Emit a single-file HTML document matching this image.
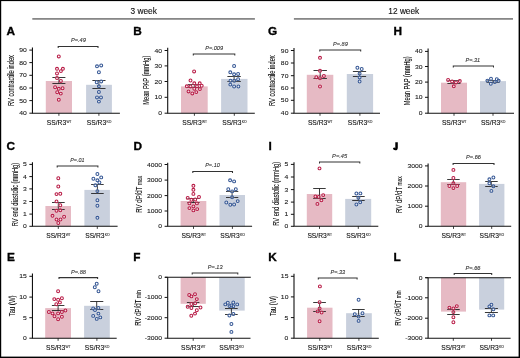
<!DOCTYPE html>
<html><head><meta charset="utf-8"><title>Figure</title>
<style>
html,body{margin:0;padding:0;background:#fff;}
body{width:520px;height:358px;overflow:hidden;}
svg{display:block;font-family:"Liberation Sans", sans-serif;will-change:transform;}
</style></head><body>
<svg xmlns="http://www.w3.org/2000/svg" width="520" height="358" viewBox="0 0 520 358">
<rect x="0" y="0" width="520" height="358" fill="#fff"/>
<rect x="32.3" y="18.1" width="222.6" height="1.6" fill="#7a7a7a"/>
<rect x="293.9" y="18.1" width="219.1" height="1.6" fill="#7a7a7a"/>
<text x="143.7" y="14.1" font-size="8.3" text-anchor="middle" fill="#111" stroke="#111" stroke-width="0.12">3 week</text>
<text x="403.8" y="14.1" font-size="8.3" text-anchor="middle" fill="#111" stroke="#111" stroke-width="0.12">12 week</text>
<g><text x="6.4" y="34.8" font-size="11.8" font-weight="bold" fill="#000" stroke="#000" stroke-width="0.35">A</text><rect x="45.8" y="81" width="26.2" height="32.2" fill="#e6bac4"/><rect x="86.1" y="84.8" width="25.8" height="28.4" fill="#c9d0dd"/><path d="M52.4 77.5H65.4M52.4 83.5H65.4M58.9 77.5V83.5" stroke="#222" stroke-width="0.9" fill="none"/><path d="M92.4 80.5H105.5M92.4 88.5H105.5M98.9 80.5V88.5" stroke="#222" stroke-width="0.9" fill="none"/><circle cx="58.8" cy="56.4" r="2.5" fill="#fff" fill-opacity="0.18"/><circle cx="57" cy="68.8" r="2.5" fill="#fff" fill-opacity="0.18"/><circle cx="62.9" cy="68.8" r="2.5" fill="#fff" fill-opacity="0.18"/><circle cx="60.9" cy="71.1" r="2.5" fill="#fff" fill-opacity="0.18"/><circle cx="57" cy="73.4" r="2.5" fill="#fff" fill-opacity="0.18"/><circle cx="57" cy="78" r="2.5" fill="#fff" fill-opacity="0.18"/><circle cx="60.9" cy="80.9" r="2.5" fill="#fff" fill-opacity="0.18"/><circle cx="55.1" cy="87.2" r="2.5" fill="#fff" fill-opacity="0.18"/><circle cx="58.8" cy="88.8" r="2.5" fill="#fff" fill-opacity="0.18"/><circle cx="62.6" cy="88.2" r="2.5" fill="#fff" fill-opacity="0.18"/><circle cx="57.2" cy="92.2" r="2.5" fill="#fff" fill-opacity="0.18"/><circle cx="60.8" cy="93.6" r="2.5" fill="#fff" fill-opacity="0.18"/><circle cx="58.8" cy="99.7" r="2.5" fill="#fff" fill-opacity="0.18"/><circle cx="58.8" cy="56.4" r="1.45" fill="#fff" fill-opacity="0.35" stroke="#b81a45" stroke-width="1.05"/><circle cx="57" cy="68.8" r="1.45" fill="#fff" fill-opacity="0.35" stroke="#b81a45" stroke-width="1.05"/><circle cx="62.9" cy="68.8" r="1.45" fill="#fff" fill-opacity="0.35" stroke="#b81a45" stroke-width="1.05"/><circle cx="60.9" cy="71.1" r="1.45" fill="#fff" fill-opacity="0.35" stroke="#b81a45" stroke-width="1.05"/><circle cx="57" cy="73.4" r="1.45" fill="#fff" fill-opacity="0.35" stroke="#b81a45" stroke-width="1.05"/><circle cx="57" cy="78" r="1.45" fill="#fff" fill-opacity="0.35" stroke="#b81a45" stroke-width="1.05"/><circle cx="60.9" cy="80.9" r="1.45" fill="#fff" fill-opacity="0.35" stroke="#b81a45" stroke-width="1.05"/><circle cx="55.1" cy="87.2" r="1.45" fill="#fff" fill-opacity="0.35" stroke="#b81a45" stroke-width="1.05"/><circle cx="58.8" cy="88.8" r="1.45" fill="#fff" fill-opacity="0.35" stroke="#b81a45" stroke-width="1.05"/><circle cx="62.6" cy="88.2" r="1.45" fill="#fff" fill-opacity="0.35" stroke="#b81a45" stroke-width="1.05"/><circle cx="57.2" cy="92.2" r="1.45" fill="#fff" fill-opacity="0.35" stroke="#b81a45" stroke-width="1.05"/><circle cx="60.8" cy="93.6" r="1.45" fill="#fff" fill-opacity="0.35" stroke="#b81a45" stroke-width="1.05"/><circle cx="58.8" cy="99.7" r="1.45" fill="#fff" fill-opacity="0.35" stroke="#b81a45" stroke-width="1.05"/><circle cx="97" cy="66.3" r="2.5" fill="#fff" fill-opacity="0.18"/><circle cx="101.2" cy="65.4" r="2.5" fill="#fff" fill-opacity="0.18"/><circle cx="98.9" cy="72.2" r="2.5" fill="#fff" fill-opacity="0.18"/><circle cx="96.7" cy="82.2" r="2.5" fill="#fff" fill-opacity="0.18"/><circle cx="101.2" cy="81.4" r="2.5" fill="#fff" fill-opacity="0.18"/><circle cx="98.9" cy="86.3" r="2.5" fill="#fff" fill-opacity="0.18"/><circle cx="98.9" cy="91.9" r="2.5" fill="#fff" fill-opacity="0.18"/><circle cx="97" cy="97.4" r="2.5" fill="#fff" fill-opacity="0.18"/><circle cx="101" cy="97.4" r="2.5" fill="#fff" fill-opacity="0.18"/><circle cx="98.9" cy="101.6" r="2.5" fill="#fff" fill-opacity="0.18"/><circle cx="97" cy="66.3" r="1.45" fill="#fff" fill-opacity="0.35" stroke="#345694" stroke-width="1.05"/><circle cx="101.2" cy="65.4" r="1.45" fill="#fff" fill-opacity="0.35" stroke="#345694" stroke-width="1.05"/><circle cx="98.9" cy="72.2" r="1.45" fill="#fff" fill-opacity="0.35" stroke="#345694" stroke-width="1.05"/><circle cx="96.7" cy="82.2" r="1.45" fill="#fff" fill-opacity="0.35" stroke="#345694" stroke-width="1.05"/><circle cx="101.2" cy="81.4" r="1.45" fill="#fff" fill-opacity="0.35" stroke="#345694" stroke-width="1.05"/><circle cx="98.9" cy="86.3" r="1.45" fill="#fff" fill-opacity="0.35" stroke="#345694" stroke-width="1.05"/><circle cx="98.9" cy="91.9" r="1.45" fill="#fff" fill-opacity="0.35" stroke="#345694" stroke-width="1.05"/><circle cx="97" cy="97.4" r="1.45" fill="#fff" fill-opacity="0.35" stroke="#345694" stroke-width="1.05"/><circle cx="101" cy="97.4" r="1.45" fill="#fff" fill-opacity="0.35" stroke="#345694" stroke-width="1.05"/><circle cx="98.9" cy="101.6" r="1.45" fill="#fff" fill-opacity="0.35" stroke="#345694" stroke-width="1.05"/><path d="M32.45 47.5V113.2H119.9" stroke="#111" stroke-width="1.1" fill="none"/><path d="M29.35 50.1H32.45" stroke="#111" stroke-width="1.0"/><text x="26.85" y="52.15" font-size="5.7" text-anchor="end" fill="#222" stroke="#222" stroke-width="0.1" textLength="7.54" lengthAdjust="spacingAndGlyphs">90</text><path d="M29.35 62.6H32.45" stroke="#111" stroke-width="1.0"/><text x="26.85" y="64.65" font-size="5.7" text-anchor="end" fill="#222" stroke="#222" stroke-width="0.1" textLength="7.54" lengthAdjust="spacingAndGlyphs">80</text><path d="M29.35 75.3H32.45" stroke="#111" stroke-width="1.0"/><text x="26.85" y="77.35" font-size="5.7" text-anchor="end" fill="#222" stroke="#222" stroke-width="0.1" textLength="7.54" lengthAdjust="spacingAndGlyphs">70</text><path d="M29.35 88H32.45" stroke="#111" stroke-width="1.0"/><text x="26.85" y="90.05" font-size="5.7" text-anchor="end" fill="#222" stroke="#222" stroke-width="0.1" textLength="7.54" lengthAdjust="spacingAndGlyphs">60</text><path d="M29.35 100.6H32.45" stroke="#111" stroke-width="1.0"/><text x="26.85" y="102.65" font-size="5.7" text-anchor="end" fill="#222" stroke="#222" stroke-width="0.1" textLength="7.54" lengthAdjust="spacingAndGlyphs">50</text><path d="M29.35 113.2H32.45" stroke="#111" stroke-width="1.0"/><text x="26.85" y="115.25" font-size="5.7" text-anchor="end" fill="#222" stroke="#222" stroke-width="0.1" textLength="7.54" lengthAdjust="spacingAndGlyphs">40</text><path d="M58.9 113.2V115.8" stroke="#111" stroke-width="0.8"/><text x="46.8" y="124.6" font-size="6.7" fill="#111" stroke="#111" stroke-width="0.1">SS/R3</text><text x="66.4" y="123.3" font-size="4.4" fill="#222" stroke="#222" stroke-width="0.1" textLength="5.0" lengthAdjust="spacingAndGlyphs">WT</text><path d="M98.9 113.2V115.8" stroke="#111" stroke-width="0.8"/><text x="86.8" y="124.6" font-size="6.7" fill="#111" stroke="#111" stroke-width="0.1">SS/R3</text><text x="106.4" y="123.3" font-size="4.4" fill="#222" stroke="#222" stroke-width="0.1" textLength="5.0" lengthAdjust="spacingAndGlyphs">KO</text><text transform="translate(13.8 80.5) rotate(-90)" x="0" y="0" font-size="8.2" text-anchor="middle" fill="#000" stroke="#000" stroke-width="0.06" textLength="51" lengthAdjust="spacingAndGlyphs">RV contractile index</text><path d="M58.2 47.9V46.4H98V47.9" stroke="#333" stroke-width="1.05" fill="none"/><text x="70.9" y="42.2" font-size="5.4" font-style="italic" fill="#333" stroke="#333" stroke-width="0.1" textLength="14.9" lengthAdjust="spacingAndGlyphs">P=.49</text></g>
<g><text x="133.2" y="34.8" font-size="11.8" font-weight="bold" fill="#000" stroke="#000" stroke-width="0.35">B</text><rect x="181" y="86.4" width="26.7" height="26.8" fill="#e6bac4"/><rect x="221.1" y="78.9" width="26.4" height="34.3" fill="#c9d0dd"/><path d="M187.8 84.5H200.8M187.8 87.5H200.8M194.3 84.5V87.5" stroke="#222" stroke-width="0.9" fill="none"/><path d="M227.4 76.5H240.8M227.4 81.5H240.8M234.1 76.5V81.5" stroke="#222" stroke-width="0.9" fill="none"/><circle cx="194.1" cy="71.4" r="2.5" fill="#fff" fill-opacity="0.18"/><circle cx="190.5" cy="80.5" r="2.5" fill="#fff" fill-opacity="0.18"/><circle cx="194.3" cy="83.3" r="2.5" fill="#fff" fill-opacity="0.18"/><circle cx="199.7" cy="83.3" r="2.5" fill="#fff" fill-opacity="0.18"/><circle cx="186.8" cy="86.3" r="2.5" fill="#fff" fill-opacity="0.18"/><circle cx="190.5" cy="86.4" r="2.5" fill="#fff" fill-opacity="0.18"/><circle cx="197" cy="86.3" r="2.5" fill="#fff" fill-opacity="0.18"/><circle cx="201.7" cy="85.7" r="2.5" fill="#fff" fill-opacity="0.18"/><circle cx="194.3" cy="88.7" r="2.5" fill="#fff" fill-opacity="0.18"/><circle cx="199.9" cy="89.1" r="2.5" fill="#fff" fill-opacity="0.18"/><circle cx="188.5" cy="91.4" r="2.5" fill="#fff" fill-opacity="0.18"/><circle cx="192.3" cy="93.4" r="2.5" fill="#fff" fill-opacity="0.18"/><circle cx="196.3" cy="92.1" r="2.5" fill="#fff" fill-opacity="0.18"/><circle cx="194.1" cy="71.4" r="1.45" fill="#fff" fill-opacity="0.35" stroke="#b81a45" stroke-width="1.05"/><circle cx="190.5" cy="80.5" r="1.45" fill="#fff" fill-opacity="0.35" stroke="#b81a45" stroke-width="1.05"/><circle cx="194.3" cy="83.3" r="1.45" fill="#fff" fill-opacity="0.35" stroke="#b81a45" stroke-width="1.05"/><circle cx="199.7" cy="83.3" r="1.45" fill="#fff" fill-opacity="0.35" stroke="#b81a45" stroke-width="1.05"/><circle cx="186.8" cy="86.3" r="1.45" fill="#fff" fill-opacity="0.35" stroke="#b81a45" stroke-width="1.05"/><circle cx="190.5" cy="86.4" r="1.45" fill="#fff" fill-opacity="0.35" stroke="#b81a45" stroke-width="1.05"/><circle cx="197" cy="86.3" r="1.45" fill="#fff" fill-opacity="0.35" stroke="#b81a45" stroke-width="1.05"/><circle cx="201.7" cy="85.7" r="1.45" fill="#fff" fill-opacity="0.35" stroke="#b81a45" stroke-width="1.05"/><circle cx="194.3" cy="88.7" r="1.45" fill="#fff" fill-opacity="0.35" stroke="#b81a45" stroke-width="1.05"/><circle cx="199.9" cy="89.1" r="1.45" fill="#fff" fill-opacity="0.35" stroke="#b81a45" stroke-width="1.05"/><circle cx="188.5" cy="91.4" r="1.45" fill="#fff" fill-opacity="0.35" stroke="#b81a45" stroke-width="1.05"/><circle cx="192.3" cy="93.4" r="1.45" fill="#fff" fill-opacity="0.35" stroke="#b81a45" stroke-width="1.05"/><circle cx="196.3" cy="92.1" r="1.45" fill="#fff" fill-opacity="0.35" stroke="#b81a45" stroke-width="1.05"/><circle cx="234.1" cy="66" r="2.5" fill="#fff" fill-opacity="0.18"/><circle cx="230.3" cy="72.3" r="2.5" fill="#fff" fill-opacity="0.18"/><circle cx="234.1" cy="74.3" r="2.5" fill="#fff" fill-opacity="0.18"/><circle cx="238.1" cy="73.9" r="2.5" fill="#fff" fill-opacity="0.18"/><circle cx="230.5" cy="80.7" r="2.5" fill="#fff" fill-opacity="0.18"/><circle cx="234.3" cy="80.7" r="2.5" fill="#fff" fill-opacity="0.18"/><circle cx="238.1" cy="79.2" r="2.5" fill="#fff" fill-opacity="0.18"/><circle cx="230.3" cy="84.6" r="2.5" fill="#fff" fill-opacity="0.18"/><circle cx="234.1" cy="86.5" r="2.5" fill="#fff" fill-opacity="0.18"/><circle cx="238.4" cy="86.5" r="2.5" fill="#fff" fill-opacity="0.18"/><circle cx="234.1" cy="66" r="1.45" fill="#fff" fill-opacity="0.35" stroke="#345694" stroke-width="1.05"/><circle cx="230.3" cy="72.3" r="1.45" fill="#fff" fill-opacity="0.35" stroke="#345694" stroke-width="1.05"/><circle cx="234.1" cy="74.3" r="1.45" fill="#fff" fill-opacity="0.35" stroke="#345694" stroke-width="1.05"/><circle cx="238.1" cy="73.9" r="1.45" fill="#fff" fill-opacity="0.35" stroke="#345694" stroke-width="1.05"/><circle cx="230.5" cy="80.7" r="1.45" fill="#fff" fill-opacity="0.35" stroke="#345694" stroke-width="1.05"/><circle cx="234.3" cy="80.7" r="1.45" fill="#fff" fill-opacity="0.35" stroke="#345694" stroke-width="1.05"/><circle cx="238.1" cy="79.2" r="1.45" fill="#fff" fill-opacity="0.35" stroke="#345694" stroke-width="1.05"/><circle cx="230.3" cy="84.6" r="1.45" fill="#fff" fill-opacity="0.35" stroke="#345694" stroke-width="1.05"/><circle cx="234.1" cy="86.5" r="1.45" fill="#fff" fill-opacity="0.35" stroke="#345694" stroke-width="1.05"/><circle cx="238.4" cy="86.5" r="1.45" fill="#fff" fill-opacity="0.35" stroke="#345694" stroke-width="1.05"/><path d="M167.7 47.7V113.2H254.8" stroke="#111" stroke-width="1.1" fill="none"/><path d="M164.6 50.5H167.7" stroke="#111" stroke-width="1.0"/><text x="162.1" y="52.55" font-size="5.7" text-anchor="end" fill="#222" stroke="#222" stroke-width="0.1" textLength="7.54" lengthAdjust="spacingAndGlyphs">40</text><path d="M164.6 65.9H167.7" stroke="#111" stroke-width="1.0"/><text x="162.1" y="67.95" font-size="5.7" text-anchor="end" fill="#222" stroke="#222" stroke-width="0.1" textLength="7.54" lengthAdjust="spacingAndGlyphs">30</text><path d="M164.6 81.5H167.7" stroke="#111" stroke-width="1.0"/><text x="162.1" y="83.55" font-size="5.7" text-anchor="end" fill="#222" stroke="#222" stroke-width="0.1" textLength="7.54" lengthAdjust="spacingAndGlyphs">20</text><path d="M164.6 97.3H167.7" stroke="#111" stroke-width="1.0"/><text x="162.1" y="99.35" font-size="5.7" text-anchor="end" fill="#222" stroke="#222" stroke-width="0.1" textLength="7.54" lengthAdjust="spacingAndGlyphs">10</text><path d="M164.6 113.2H167.7" stroke="#111" stroke-width="1.0"/><text x="162.1" y="115.25" font-size="5.7" text-anchor="end" fill="#222" stroke="#222" stroke-width="0.1" textLength="3.77" lengthAdjust="spacingAndGlyphs">0</text><path d="M194.4 113.2V115.8" stroke="#111" stroke-width="0.8"/><text x="182.3" y="124.6" font-size="6.7" fill="#111" stroke="#111" stroke-width="0.1">SS/R3</text><text x="201.9" y="123.3" font-size="4.4" fill="#222" stroke="#222" stroke-width="0.1" textLength="5.0" lengthAdjust="spacingAndGlyphs">WT</text><path d="M234.3 113.2V115.8" stroke="#111" stroke-width="0.8"/><text x="222.2" y="124.6" font-size="6.7" fill="#111" stroke="#111" stroke-width="0.1">SS/R3</text><text x="241.8" y="123.3" font-size="4.4" fill="#222" stroke="#222" stroke-width="0.1" textLength="5.0" lengthAdjust="spacingAndGlyphs">KO</text><text transform="translate(149.2 80.25) rotate(-90)" x="0" y="0" font-size="8.2" text-anchor="middle" fill="#000" stroke="#000" stroke-width="0.06" textLength="49.1" lengthAdjust="spacingAndGlyphs">Mean PAP (mmHg)</text><path d="M193.3 55.5V54H234.8V55.5" stroke="#333" stroke-width="1.05" fill="none"/><text x="205.2" y="49.8" font-size="5.4" font-style="italic" fill="#333" stroke="#333" stroke-width="0.1" textLength="17.9" lengthAdjust="spacingAndGlyphs">P=.009</text></g>
<g><text x="268.1" y="35" font-size="11.8" font-weight="bold" fill="#000" stroke="#000" stroke-width="0.35">G</text><rect x="306.8" y="74.8" width="26.5" height="38.4" fill="#e6bac4"/><rect x="346.8" y="74" width="26.3" height="39.2" fill="#c9d0dd"/><path d="M313.5 70.5H326.9M313.5 78.5H326.9M320.2 70.5V78.5" stroke="#222" stroke-width="0.9" fill="none"/><path d="M352.9 71.5H366.1M352.9 76.5H366.1M359.6 71.5V76.5" stroke="#222" stroke-width="0.9" fill="none"/><circle cx="320" cy="57.8" r="2.5" fill="#fff" fill-opacity="0.18"/><circle cx="320" cy="70.7" r="2.5" fill="#fff" fill-opacity="0.18"/><circle cx="323.9" cy="75.9" r="2.5" fill="#fff" fill-opacity="0.18"/><circle cx="316.3" cy="77.2" r="2.5" fill="#fff" fill-opacity="0.18"/><circle cx="320" cy="78.2" r="2.5" fill="#fff" fill-opacity="0.18"/><circle cx="320" cy="86.5" r="2.5" fill="#fff" fill-opacity="0.18"/><circle cx="320" cy="57.8" r="1.45" fill="#fff" fill-opacity="0.35" stroke="#b81a45" stroke-width="1.05"/><circle cx="320" cy="70.7" r="1.45" fill="#fff" fill-opacity="0.35" stroke="#b81a45" stroke-width="1.05"/><circle cx="323.9" cy="75.9" r="1.45" fill="#fff" fill-opacity="0.35" stroke="#b81a45" stroke-width="1.05"/><circle cx="316.3" cy="77.2" r="1.45" fill="#fff" fill-opacity="0.35" stroke="#b81a45" stroke-width="1.05"/><circle cx="320" cy="78.2" r="1.45" fill="#fff" fill-opacity="0.35" stroke="#b81a45" stroke-width="1.05"/><circle cx="320" cy="86.5" r="1.45" fill="#fff" fill-opacity="0.35" stroke="#b81a45" stroke-width="1.05"/><circle cx="357.4" cy="67.7" r="2.5" fill="#fff" fill-opacity="0.18"/><circle cx="361.7" cy="69" r="2.5" fill="#fff" fill-opacity="0.18"/><circle cx="359.6" cy="73.5" r="2.5" fill="#fff" fill-opacity="0.18"/><circle cx="359.6" cy="77.4" r="2.5" fill="#fff" fill-opacity="0.18"/><circle cx="359.6" cy="81.5" r="2.5" fill="#fff" fill-opacity="0.18"/><circle cx="357.4" cy="67.7" r="1.45" fill="#fff" fill-opacity="0.35" stroke="#345694" stroke-width="1.05"/><circle cx="361.7" cy="69" r="1.45" fill="#fff" fill-opacity="0.35" stroke="#345694" stroke-width="1.05"/><circle cx="359.6" cy="73.5" r="1.45" fill="#fff" fill-opacity="0.35" stroke="#345694" stroke-width="1.05"/><circle cx="359.6" cy="77.4" r="1.45" fill="#fff" fill-opacity="0.35" stroke="#345694" stroke-width="1.05"/><circle cx="359.6" cy="81.5" r="1.45" fill="#fff" fill-opacity="0.35" stroke="#345694" stroke-width="1.05"/><path d="M294 48V113.2H380" stroke="#111" stroke-width="1.1" fill="none"/><path d="M290.9 50.5H294" stroke="#111" stroke-width="1.0"/><text x="288.4" y="52.55" font-size="5.7" text-anchor="end" fill="#222" stroke="#222" stroke-width="0.1" textLength="7.54" lengthAdjust="spacingAndGlyphs">90</text><path d="M290.9 63H294" stroke="#111" stroke-width="1.0"/><text x="288.4" y="65.05" font-size="5.7" text-anchor="end" fill="#222" stroke="#222" stroke-width="0.1" textLength="7.54" lengthAdjust="spacingAndGlyphs">80</text><path d="M290.9 75.7H294" stroke="#111" stroke-width="1.0"/><text x="288.4" y="77.75" font-size="5.7" text-anchor="end" fill="#222" stroke="#222" stroke-width="0.1" textLength="7.54" lengthAdjust="spacingAndGlyphs">70</text><path d="M290.9 88H294" stroke="#111" stroke-width="1.0"/><text x="288.4" y="90.05" font-size="5.7" text-anchor="end" fill="#222" stroke="#222" stroke-width="0.1" textLength="7.54" lengthAdjust="spacingAndGlyphs">60</text><path d="M290.9 100.3H294" stroke="#111" stroke-width="1.0"/><text x="288.4" y="102.35" font-size="5.7" text-anchor="end" fill="#222" stroke="#222" stroke-width="0.1" textLength="7.54" lengthAdjust="spacingAndGlyphs">50</text><path d="M290.9 113.2H294" stroke="#111" stroke-width="1.0"/><text x="288.4" y="115.25" font-size="5.7" text-anchor="end" fill="#222" stroke="#222" stroke-width="0.1" textLength="7.54" lengthAdjust="spacingAndGlyphs">40</text><path d="M320 113.2V115.8" stroke="#111" stroke-width="0.8"/><text x="307.9" y="124.6" font-size="6.7" fill="#111" stroke="#111" stroke-width="0.1">SS/R3</text><text x="327.5" y="123.3" font-size="4.4" fill="#222" stroke="#222" stroke-width="0.1" textLength="5.0" lengthAdjust="spacingAndGlyphs">WT</text><path d="M359.9 113.2V115.8" stroke="#111" stroke-width="0.8"/><text x="347.8" y="124.6" font-size="6.7" fill="#111" stroke="#111" stroke-width="0.1">SS/R3</text><text x="367.4" y="123.3" font-size="4.4" fill="#222" stroke="#222" stroke-width="0.1" textLength="5.0" lengthAdjust="spacingAndGlyphs">KO</text><text transform="translate(275.2 80.65) rotate(-90)" x="0" y="0" font-size="8.2" text-anchor="middle" fill="#000" stroke="#000" stroke-width="0.06" textLength="50.7" lengthAdjust="spacingAndGlyphs">RV contractile index</text><path d="M319.8 51.5V50H360.7V51.5" stroke="#333" stroke-width="1.05" fill="none"/><text x="333.1" y="46" font-size="5.4" font-style="italic" fill="#333" stroke="#333" stroke-width="0.1" textLength="14.7" lengthAdjust="spacingAndGlyphs">P=.89</text></g>
<g><text x="393.6" y="35" font-size="11.8" font-weight="bold" fill="#000" stroke="#000" stroke-width="0.35">H</text><rect x="441" y="82.7" width="26" height="30.5" fill="#e6bac4"/><rect x="480" y="81.1" width="26" height="32.1" fill="#c9d0dd"/><path d="M447.4 80.5H460.5M447.4 83.5H460.5M454 80.5V83.5" stroke="#222" stroke-width="0.9" fill="none"/><path d="M486.5 80.5H499.5M486.5 82.5H499.5M493 80.5V82.5" stroke="#222" stroke-width="0.9" fill="none"/><circle cx="448.1" cy="79.9" r="2.5" fill="#fff" fill-opacity="0.18"/><circle cx="452.1" cy="81.4" r="2.5" fill="#fff" fill-opacity="0.18"/><circle cx="456" cy="82.4" r="2.5" fill="#fff" fill-opacity="0.18"/><circle cx="459.8" cy="80.9" r="2.5" fill="#fff" fill-opacity="0.18"/><circle cx="453.8" cy="86.3" r="2.5" fill="#fff" fill-opacity="0.18"/><circle cx="448.1" cy="79.9" r="1.45" fill="#fff" fill-opacity="0.35" stroke="#b81a45" stroke-width="1.05"/><circle cx="452.1" cy="81.4" r="1.45" fill="#fff" fill-opacity="0.35" stroke="#b81a45" stroke-width="1.05"/><circle cx="456" cy="82.4" r="1.45" fill="#fff" fill-opacity="0.35" stroke="#b81a45" stroke-width="1.05"/><circle cx="459.8" cy="80.9" r="1.45" fill="#fff" fill-opacity="0.35" stroke="#b81a45" stroke-width="1.05"/><circle cx="453.8" cy="86.3" r="1.45" fill="#fff" fill-opacity="0.35" stroke="#b81a45" stroke-width="1.05"/><circle cx="487.4" cy="80.6" r="2.5" fill="#fff" fill-opacity="0.18"/><circle cx="491" cy="78.7" r="2.5" fill="#fff" fill-opacity="0.18"/><circle cx="490.8" cy="83.7" r="2.5" fill="#fff" fill-opacity="0.18"/><circle cx="494.8" cy="82.1" r="2.5" fill="#fff" fill-opacity="0.18"/><circle cx="496.8" cy="79.2" r="2.5" fill="#fff" fill-opacity="0.18"/><circle cx="498.6" cy="80.7" r="2.5" fill="#fff" fill-opacity="0.18"/><circle cx="487.4" cy="80.6" r="1.45" fill="#fff" fill-opacity="0.35" stroke="#345694" stroke-width="1.05"/><circle cx="491" cy="78.7" r="1.45" fill="#fff" fill-opacity="0.35" stroke="#345694" stroke-width="1.05"/><circle cx="490.8" cy="83.7" r="1.45" fill="#fff" fill-opacity="0.35" stroke="#345694" stroke-width="1.05"/><circle cx="494.8" cy="82.1" r="1.45" fill="#fff" fill-opacity="0.35" stroke="#345694" stroke-width="1.05"/><circle cx="496.8" cy="79.2" r="1.45" fill="#fff" fill-opacity="0.35" stroke="#345694" stroke-width="1.05"/><circle cx="498.6" cy="80.7" r="1.45" fill="#fff" fill-opacity="0.35" stroke="#345694" stroke-width="1.05"/><path d="M428.1 48.5V113.2H514" stroke="#111" stroke-width="1.1" fill="none"/><path d="M425 51.4H428.1" stroke="#111" stroke-width="1.0"/><text x="422.5" y="53.45" font-size="5.7" text-anchor="end" fill="#222" stroke="#222" stroke-width="0.1" textLength="7.54" lengthAdjust="spacingAndGlyphs">40</text><path d="M425 66.5H428.1" stroke="#111" stroke-width="1.0"/><text x="422.5" y="68.55" font-size="5.7" text-anchor="end" fill="#222" stroke="#222" stroke-width="0.1" textLength="7.54" lengthAdjust="spacingAndGlyphs">30</text><path d="M425 82.1H428.1" stroke="#111" stroke-width="1.0"/><text x="422.5" y="84.15" font-size="5.7" text-anchor="end" fill="#222" stroke="#222" stroke-width="0.1" textLength="7.54" lengthAdjust="spacingAndGlyphs">20</text><path d="M425 97.3H428.1" stroke="#111" stroke-width="1.0"/><text x="422.5" y="99.35" font-size="5.7" text-anchor="end" fill="#222" stroke="#222" stroke-width="0.1" textLength="7.54" lengthAdjust="spacingAndGlyphs">10</text><path d="M425 113.2H428.1" stroke="#111" stroke-width="1.0"/><text x="422.5" y="115.25" font-size="5.7" text-anchor="end" fill="#222" stroke="#222" stroke-width="0.1" textLength="3.77" lengthAdjust="spacingAndGlyphs">0</text><path d="M454 113.2V115.8" stroke="#111" stroke-width="0.8"/><text x="441.9" y="124.6" font-size="6.7" fill="#111" stroke="#111" stroke-width="0.1">SS/R3</text><text x="461.5" y="123.3" font-size="4.4" fill="#222" stroke="#222" stroke-width="0.1" textLength="5.0" lengthAdjust="spacingAndGlyphs">WT</text><path d="M493 113.2V115.8" stroke="#111" stroke-width="0.8"/><text x="480.9" y="124.6" font-size="6.7" fill="#111" stroke="#111" stroke-width="0.1">SS/R3</text><text x="500.5" y="123.3" font-size="4.4" fill="#222" stroke="#222" stroke-width="0.1" textLength="5.0" lengthAdjust="spacingAndGlyphs">KO</text><text transform="translate(410 80.85) rotate(-90)" x="0" y="0" font-size="8.2" text-anchor="middle" fill="#000" stroke="#000" stroke-width="0.06" textLength="48.9" lengthAdjust="spacingAndGlyphs">Mean PAP (mmHg)</text><path d="M453.3 67.5V66H493.5V67.5" stroke="#333" stroke-width="1.05" fill="none"/><text x="465.6" y="61.6" font-size="5.4" font-style="italic" fill="#333" stroke="#333" stroke-width="0.1" textLength="14.6" lengthAdjust="spacingAndGlyphs">P=.31</text></g>
<g><text x="6.6" y="150.4" font-size="11.8" font-weight="bold" fill="#000" stroke="#000" stroke-width="0.35">C</text><rect x="45.4" y="206" width="25.6" height="20.3" fill="#e6bac4"/><rect x="84.4" y="189.9" width="25.5" height="36.4" fill="#c9d0dd"/><path d="M52 202.5H64.7M52 209.5H64.7M58.3 202.5V209.5" stroke="#222" stroke-width="0.9" fill="none"/><path d="M91.1 184.5H103.7M91.1 193.5H103.7M97.4 184.5V193.5" stroke="#222" stroke-width="0.9" fill="none"/><circle cx="58.3" cy="178.2" r="2.5" fill="#fff" fill-opacity="0.18"/><circle cx="58.3" cy="186.5" r="2.5" fill="#fff" fill-opacity="0.18"/><circle cx="56.5" cy="194.1" r="2.5" fill="#fff" fill-opacity="0.18"/><circle cx="60.3" cy="193.7" r="2.5" fill="#fff" fill-opacity="0.18"/><circle cx="56.5" cy="201.4" r="2.5" fill="#fff" fill-opacity="0.18"/><circle cx="60.3" cy="205.2" r="2.5" fill="#fff" fill-opacity="0.18"/><circle cx="56.5" cy="210.7" r="2.5" fill="#fff" fill-opacity="0.18"/><circle cx="60.3" cy="210.3" r="2.5" fill="#fff" fill-opacity="0.18"/><circle cx="52.5" cy="215.8" r="2.5" fill="#fff" fill-opacity="0.18"/><circle cx="64.1" cy="216.7" r="2.5" fill="#fff" fill-opacity="0.18"/><circle cx="56.5" cy="219.5" r="2.5" fill="#fff" fill-opacity="0.18"/><circle cx="60.5" cy="219.5" r="2.5" fill="#fff" fill-opacity="0.18"/><circle cx="58.3" cy="223" r="2.5" fill="#fff" fill-opacity="0.18"/><circle cx="58.3" cy="178.2" r="1.45" fill="#fff" fill-opacity="0.35" stroke="#b81a45" stroke-width="1.05"/><circle cx="58.3" cy="186.5" r="1.45" fill="#fff" fill-opacity="0.35" stroke="#b81a45" stroke-width="1.05"/><circle cx="56.5" cy="194.1" r="1.45" fill="#fff" fill-opacity="0.35" stroke="#b81a45" stroke-width="1.05"/><circle cx="60.3" cy="193.7" r="1.45" fill="#fff" fill-opacity="0.35" stroke="#b81a45" stroke-width="1.05"/><circle cx="56.5" cy="201.4" r="1.45" fill="#fff" fill-opacity="0.35" stroke="#b81a45" stroke-width="1.05"/><circle cx="60.3" cy="205.2" r="1.45" fill="#fff" fill-opacity="0.35" stroke="#b81a45" stroke-width="1.05"/><circle cx="56.5" cy="210.7" r="1.45" fill="#fff" fill-opacity="0.35" stroke="#b81a45" stroke-width="1.05"/><circle cx="60.3" cy="210.3" r="1.45" fill="#fff" fill-opacity="0.35" stroke="#b81a45" stroke-width="1.05"/><circle cx="52.5" cy="215.8" r="1.45" fill="#fff" fill-opacity="0.35" stroke="#b81a45" stroke-width="1.05"/><circle cx="64.1" cy="216.7" r="1.45" fill="#fff" fill-opacity="0.35" stroke="#b81a45" stroke-width="1.05"/><circle cx="56.5" cy="219.5" r="1.45" fill="#fff" fill-opacity="0.35" stroke="#b81a45" stroke-width="1.05"/><circle cx="60.5" cy="219.5" r="1.45" fill="#fff" fill-opacity="0.35" stroke="#b81a45" stroke-width="1.05"/><circle cx="58.3" cy="223" r="1.45" fill="#fff" fill-opacity="0.35" stroke="#b81a45" stroke-width="1.05"/><circle cx="97.4" cy="174" r="2.5" fill="#fff" fill-opacity="0.18"/><circle cx="93.4" cy="178.7" r="2.5" fill="#fff" fill-opacity="0.18"/><circle cx="101.2" cy="177.4" r="2.5" fill="#fff" fill-opacity="0.18"/><circle cx="97.4" cy="180.3" r="2.5" fill="#fff" fill-opacity="0.18"/><circle cx="99.4" cy="182.5" r="2.5" fill="#fff" fill-opacity="0.18"/><circle cx="95.4" cy="185.2" r="2.5" fill="#fff" fill-opacity="0.18"/><circle cx="97.4" cy="191.1" r="2.5" fill="#fff" fill-opacity="0.18"/><circle cx="97.4" cy="200.2" r="2.5" fill="#fff" fill-opacity="0.18"/><circle cx="97.4" cy="205.7" r="2.5" fill="#fff" fill-opacity="0.18"/><circle cx="97.4" cy="217.8" r="2.5" fill="#fff" fill-opacity="0.18"/><circle cx="97.4" cy="174" r="1.45" fill="#fff" fill-opacity="0.35" stroke="#345694" stroke-width="1.05"/><circle cx="93.4" cy="178.7" r="1.45" fill="#fff" fill-opacity="0.35" stroke="#345694" stroke-width="1.05"/><circle cx="101.2" cy="177.4" r="1.45" fill="#fff" fill-opacity="0.35" stroke="#345694" stroke-width="1.05"/><circle cx="97.4" cy="180.3" r="1.45" fill="#fff" fill-opacity="0.35" stroke="#345694" stroke-width="1.05"/><circle cx="99.4" cy="182.5" r="1.45" fill="#fff" fill-opacity="0.35" stroke="#345694" stroke-width="1.05"/><circle cx="95.4" cy="185.2" r="1.45" fill="#fff" fill-opacity="0.35" stroke="#345694" stroke-width="1.05"/><circle cx="97.4" cy="191.1" r="1.45" fill="#fff" fill-opacity="0.35" stroke="#345694" stroke-width="1.05"/><circle cx="97.4" cy="200.2" r="1.45" fill="#fff" fill-opacity="0.35" stroke="#345694" stroke-width="1.05"/><circle cx="97.4" cy="205.7" r="1.45" fill="#fff" fill-opacity="0.35" stroke="#345694" stroke-width="1.05"/><circle cx="97.4" cy="217.8" r="1.45" fill="#fff" fill-opacity="0.35" stroke="#345694" stroke-width="1.05"/><path d="M32.45 162.2V226.3H117.6" stroke="#111" stroke-width="1.1" fill="none"/><path d="M29.35 164.4H32.45" stroke="#111" stroke-width="1.0"/><text x="26.85" y="166.45" font-size="5.7" text-anchor="end" fill="#222" stroke="#222" stroke-width="0.1" textLength="3.77" lengthAdjust="spacingAndGlyphs">5</text><path d="M29.35 176.6H32.45" stroke="#111" stroke-width="1.0"/><text x="26.85" y="178.65" font-size="5.7" text-anchor="end" fill="#222" stroke="#222" stroke-width="0.1" textLength="3.77" lengthAdjust="spacingAndGlyphs">4</text><path d="M29.35 188.9H32.45" stroke="#111" stroke-width="1.0"/><text x="26.85" y="190.95" font-size="5.7" text-anchor="end" fill="#222" stroke="#222" stroke-width="0.1" textLength="3.77" lengthAdjust="spacingAndGlyphs">3</text><path d="M29.35 201.5H32.45" stroke="#111" stroke-width="1.0"/><text x="26.85" y="203.55" font-size="5.7" text-anchor="end" fill="#222" stroke="#222" stroke-width="0.1" textLength="3.77" lengthAdjust="spacingAndGlyphs">2</text><path d="M29.35 214.1H32.45" stroke="#111" stroke-width="1.0"/><text x="26.85" y="216.15" font-size="5.7" text-anchor="end" fill="#222" stroke="#222" stroke-width="0.1" textLength="3.77" lengthAdjust="spacingAndGlyphs">1</text><path d="M29.35 226.3H32.45" stroke="#111" stroke-width="1.0"/><text x="26.85" y="228.35" font-size="5.7" text-anchor="end" fill="#222" stroke="#222" stroke-width="0.1" textLength="3.77" lengthAdjust="spacingAndGlyphs">0</text><path d="M58.3 226.3V228.9" stroke="#111" stroke-width="0.8"/><text x="46.2" y="237.7" font-size="6.7" fill="#111" stroke="#111" stroke-width="0.1">SS/R3</text><text x="65.8" y="236.4" font-size="4.4" fill="#222" stroke="#222" stroke-width="0.1" textLength="5.0" lengthAdjust="spacingAndGlyphs">WT</text><path d="M97.3 226.3V228.9" stroke="#111" stroke-width="0.8"/><text x="85.2" y="237.7" font-size="6.7" fill="#111" stroke="#111" stroke-width="0.1">SS/R3</text><text x="104.8" y="236.4" font-size="4.4" fill="#222" stroke="#222" stroke-width="0.1" textLength="5.0" lengthAdjust="spacingAndGlyphs">KO</text><text transform="translate(17.9 194.5) rotate(-90)" x="0" y="0" font-size="8.2" text-anchor="middle" fill="#000" stroke="#000" stroke-width="0.06" textLength="63.4" lengthAdjust="spacingAndGlyphs">RV end diastolic (mmHg)</text><path d="M57.2 167.5V166H97.9V167.5" stroke="#333" stroke-width="1.05" fill="none"/><text x="70.2" y="161.9" font-size="5.4" font-style="italic" fill="#333" stroke="#333" stroke-width="0.1" textLength="14.2" lengthAdjust="spacingAndGlyphs">P=.01</text></g>
<g><text x="133.4" y="150.4" font-size="11.8" font-weight="bold" fill="#000" stroke="#000" stroke-width="0.35">D</text><rect x="180.6" y="201" width="25.7" height="25.3" fill="#e6bac4"/><rect x="219.5" y="195" width="25.5" height="31.3" fill="#c9d0dd"/><path d="M187.2 198.5H199.6M187.2 202.5H199.6M193.4 198.5V202.5" stroke="#222" stroke-width="0.9" fill="none"/><path d="M226 191.5H238.3M226 197.5H238.3M232.1 191.5V197.5" stroke="#222" stroke-width="0.9" fill="none"/><circle cx="193.4" cy="185.8" r="2.5" fill="#fff" fill-opacity="0.18"/><circle cx="193.4" cy="189.8" r="2.5" fill="#fff" fill-opacity="0.18"/><circle cx="193.4" cy="193.9" r="2.5" fill="#fff" fill-opacity="0.18"/><circle cx="187.7" cy="197.9" r="2.5" fill="#fff" fill-opacity="0.18"/><circle cx="199" cy="197" r="2.5" fill="#fff" fill-opacity="0.18"/><circle cx="191.4" cy="199.8" r="2.5" fill="#fff" fill-opacity="0.18"/><circle cx="195.2" cy="199.5" r="2.5" fill="#fff" fill-opacity="0.18"/><circle cx="189.4" cy="203.4" r="2.5" fill="#fff" fill-opacity="0.18"/><circle cx="196.9" cy="203.4" r="2.5" fill="#fff" fill-opacity="0.18"/><circle cx="193.4" cy="206.4" r="2.5" fill="#fff" fill-opacity="0.18"/><circle cx="189.4" cy="208.1" r="2.5" fill="#fff" fill-opacity="0.18"/><circle cx="197.2" cy="209.1" r="2.5" fill="#fff" fill-opacity="0.18"/><circle cx="193.4" cy="210.4" r="2.5" fill="#fff" fill-opacity="0.18"/><circle cx="193.4" cy="185.8" r="1.45" fill="#fff" fill-opacity="0.35" stroke="#b81a45" stroke-width="1.05"/><circle cx="193.4" cy="189.8" r="1.45" fill="#fff" fill-opacity="0.35" stroke="#b81a45" stroke-width="1.05"/><circle cx="193.4" cy="193.9" r="1.45" fill="#fff" fill-opacity="0.35" stroke="#b81a45" stroke-width="1.05"/><circle cx="187.7" cy="197.9" r="1.45" fill="#fff" fill-opacity="0.35" stroke="#b81a45" stroke-width="1.05"/><circle cx="199" cy="197" r="1.45" fill="#fff" fill-opacity="0.35" stroke="#b81a45" stroke-width="1.05"/><circle cx="191.4" cy="199.8" r="1.45" fill="#fff" fill-opacity="0.35" stroke="#b81a45" stroke-width="1.05"/><circle cx="195.2" cy="199.5" r="1.45" fill="#fff" fill-opacity="0.35" stroke="#b81a45" stroke-width="1.05"/><circle cx="189.4" cy="203.4" r="1.45" fill="#fff" fill-opacity="0.35" stroke="#b81a45" stroke-width="1.05"/><circle cx="196.9" cy="203.4" r="1.45" fill="#fff" fill-opacity="0.35" stroke="#b81a45" stroke-width="1.05"/><circle cx="193.4" cy="206.4" r="1.45" fill="#fff" fill-opacity="0.35" stroke="#b81a45" stroke-width="1.05"/><circle cx="189.4" cy="208.1" r="1.45" fill="#fff" fill-opacity="0.35" stroke="#b81a45" stroke-width="1.05"/><circle cx="197.2" cy="209.1" r="1.45" fill="#fff" fill-opacity="0.35" stroke="#b81a45" stroke-width="1.05"/><circle cx="193.4" cy="210.4" r="1.45" fill="#fff" fill-opacity="0.35" stroke="#b81a45" stroke-width="1.05"/><circle cx="230.1" cy="180.3" r="2.5" fill="#fff" fill-opacity="0.18"/><circle cx="234.1" cy="181.4" r="2.5" fill="#fff" fill-opacity="0.18"/><circle cx="228.3" cy="189.2" r="2.5" fill="#fff" fill-opacity="0.18"/><circle cx="235.8" cy="189.2" r="2.5" fill="#fff" fill-opacity="0.18"/><circle cx="232.1" cy="191.4" r="2.5" fill="#fff" fill-opacity="0.18"/><circle cx="232.1" cy="197.3" r="2.5" fill="#fff" fill-opacity="0.18"/><circle cx="226.3" cy="202.5" r="2.5" fill="#fff" fill-opacity="0.18"/><circle cx="230.3" cy="204.7" r="2.5" fill="#fff" fill-opacity="0.18"/><circle cx="234.1" cy="204.5" r="2.5" fill="#fff" fill-opacity="0.18"/><circle cx="237.7" cy="201.1" r="2.5" fill="#fff" fill-opacity="0.18"/><circle cx="230.1" cy="180.3" r="1.45" fill="#fff" fill-opacity="0.35" stroke="#345694" stroke-width="1.05"/><circle cx="234.1" cy="181.4" r="1.45" fill="#fff" fill-opacity="0.35" stroke="#345694" stroke-width="1.05"/><circle cx="228.3" cy="189.2" r="1.45" fill="#fff" fill-opacity="0.35" stroke="#345694" stroke-width="1.05"/><circle cx="235.8" cy="189.2" r="1.45" fill="#fff" fill-opacity="0.35" stroke="#345694" stroke-width="1.05"/><circle cx="232.1" cy="191.4" r="1.45" fill="#fff" fill-opacity="0.35" stroke="#345694" stroke-width="1.05"/><circle cx="232.1" cy="197.3" r="1.45" fill="#fff" fill-opacity="0.35" stroke="#345694" stroke-width="1.05"/><circle cx="226.3" cy="202.5" r="1.45" fill="#fff" fill-opacity="0.35" stroke="#345694" stroke-width="1.05"/><circle cx="230.3" cy="204.7" r="1.45" fill="#fff" fill-opacity="0.35" stroke="#345694" stroke-width="1.05"/><circle cx="234.1" cy="204.5" r="1.45" fill="#fff" fill-opacity="0.35" stroke="#345694" stroke-width="1.05"/><circle cx="237.7" cy="201.1" r="1.45" fill="#fff" fill-opacity="0.35" stroke="#345694" stroke-width="1.05"/><path d="M167.7 162.7V226.3H252.1" stroke="#111" stroke-width="1.1" fill="none"/><path d="M164.6 164.5H167.7" stroke="#111" stroke-width="1.0"/><text x="162.1" y="166.55" font-size="5.7" text-anchor="end" fill="#222" stroke="#222" stroke-width="0.1" textLength="15.09" lengthAdjust="spacingAndGlyphs">4000</text><path d="M164.6 180.1H167.7" stroke="#111" stroke-width="1.0"/><text x="162.1" y="182.15" font-size="5.7" text-anchor="end" fill="#222" stroke="#222" stroke-width="0.1" textLength="15.09" lengthAdjust="spacingAndGlyphs">3000</text><path d="M164.6 195.6H167.7" stroke="#111" stroke-width="1.0"/><text x="162.1" y="197.65" font-size="5.7" text-anchor="end" fill="#222" stroke="#222" stroke-width="0.1" textLength="15.09" lengthAdjust="spacingAndGlyphs">2000</text><path d="M164.6 211H167.7" stroke="#111" stroke-width="1.0"/><text x="162.1" y="213.05" font-size="5.7" text-anchor="end" fill="#222" stroke="#222" stroke-width="0.1" textLength="15.09" lengthAdjust="spacingAndGlyphs">1000</text><path d="M164.6 226.3H167.7" stroke="#111" stroke-width="1.0"/><text x="162.1" y="228.35" font-size="5.7" text-anchor="end" fill="#222" stroke="#222" stroke-width="0.1" textLength="3.77" lengthAdjust="spacingAndGlyphs">0</text><path d="M193.5 226.3V228.9" stroke="#111" stroke-width="0.8"/><text x="181.4" y="237.7" font-size="6.7" fill="#111" stroke="#111" stroke-width="0.1">SS/R3</text><text x="201" y="236.4" font-size="4.4" fill="#222" stroke="#222" stroke-width="0.1" textLength="5.0" lengthAdjust="spacingAndGlyphs">WT</text><path d="M232.4 226.3V228.9" stroke="#111" stroke-width="0.8"/><text x="220.3" y="237.7" font-size="6.7" fill="#111" stroke="#111" stroke-width="0.1">SS/R3</text><text x="239.9" y="236.4" font-size="4.4" fill="#222" stroke="#222" stroke-width="0.1" textLength="5.0" lengthAdjust="spacingAndGlyphs">KO</text><text transform="translate(141.6 194.3) rotate(-90)" x="0" y="0" font-size="8.2" text-anchor="middle" fill="#000" stroke="#000" stroke-width="0.06" textLength="36.8" lengthAdjust="spacingAndGlyphs">RV dP/dT <tspan font-size="6.56">max</tspan></text><path d="M192.8 173V171.5H232.5V173" stroke="#333" stroke-width="1.05" fill="none"/><text x="205.2" y="167.3" font-size="5.4" font-style="italic" fill="#333" stroke="#333" stroke-width="0.1" textLength="14.6" lengthAdjust="spacingAndGlyphs">P=.10</text></g>
<g><text x="268.6" y="150" font-size="11.8" font-weight="bold" fill="#000" stroke="#000" stroke-width="0.35">I</text><rect x="306.8" y="194" width="25.4" height="32.3" fill="#e6bac4"/><rect x="345.2" y="198.9" width="26" height="27.4" fill="#c9d0dd"/><path d="M313.2 188.5H325.7M313.2 198.5H325.7M319.5 188.5V198.5" stroke="#222" stroke-width="0.9" fill="none"/><path d="M352.2 196.5H364.7M352.2 200.5H364.7M358.4 196.5V200.5" stroke="#222" stroke-width="0.9" fill="none"/><circle cx="319.5" cy="168.4" r="2.5" fill="#fff" fill-opacity="0.18"/><circle cx="315.4" cy="196.5" r="2.5" fill="#fff" fill-opacity="0.18"/><circle cx="318.7" cy="196.9" r="2.5" fill="#fff" fill-opacity="0.18"/><circle cx="323.2" cy="195.1" r="2.5" fill="#fff" fill-opacity="0.18"/><circle cx="321.4" cy="200.3" r="2.5" fill="#fff" fill-opacity="0.18"/><circle cx="317.4" cy="203.9" r="2.5" fill="#fff" fill-opacity="0.18"/><circle cx="319.5" cy="168.4" r="1.45" fill="#fff" fill-opacity="0.35" stroke="#b81a45" stroke-width="1.05"/><circle cx="315.4" cy="196.5" r="1.45" fill="#fff" fill-opacity="0.35" stroke="#b81a45" stroke-width="1.05"/><circle cx="318.7" cy="196.9" r="1.45" fill="#fff" fill-opacity="0.35" stroke="#b81a45" stroke-width="1.05"/><circle cx="323.2" cy="195.1" r="1.45" fill="#fff" fill-opacity="0.35" stroke="#b81a45" stroke-width="1.05"/><circle cx="321.4" cy="200.3" r="1.45" fill="#fff" fill-opacity="0.35" stroke="#b81a45" stroke-width="1.05"/><circle cx="317.4" cy="203.9" r="1.45" fill="#fff" fill-opacity="0.35" stroke="#b81a45" stroke-width="1.05"/><circle cx="356.4" cy="193.5" r="2.5" fill="#fff" fill-opacity="0.18"/><circle cx="360.4" cy="193.4" r="2.5" fill="#fff" fill-opacity="0.18"/><circle cx="358.4" cy="197.8" r="2.5" fill="#fff" fill-opacity="0.18"/><circle cx="360.2" cy="202.3" r="2.5" fill="#fff" fill-opacity="0.18"/><circle cx="356.4" cy="204.5" r="2.5" fill="#fff" fill-opacity="0.18"/><circle cx="356.4" cy="193.5" r="1.45" fill="#fff" fill-opacity="0.35" stroke="#345694" stroke-width="1.05"/><circle cx="360.4" cy="193.4" r="1.45" fill="#fff" fill-opacity="0.35" stroke="#345694" stroke-width="1.05"/><circle cx="358.4" cy="197.8" r="1.45" fill="#fff" fill-opacity="0.35" stroke="#345694" stroke-width="1.05"/><circle cx="360.2" cy="202.3" r="1.45" fill="#fff" fill-opacity="0.35" stroke="#345694" stroke-width="1.05"/><circle cx="356.4" cy="204.5" r="1.45" fill="#fff" fill-opacity="0.35" stroke="#345694" stroke-width="1.05"/><path d="M294 162.2V226.3H378.3" stroke="#111" stroke-width="1.1" fill="none"/><path d="M290.9 164.4H294" stroke="#111" stroke-width="1.0"/><text x="288.4" y="166.45" font-size="5.7" text-anchor="end" fill="#222" stroke="#222" stroke-width="0.1" textLength="3.77" lengthAdjust="spacingAndGlyphs">5</text><path d="M290.9 177H294" stroke="#111" stroke-width="1.0"/><text x="288.4" y="179.05" font-size="5.7" text-anchor="end" fill="#222" stroke="#222" stroke-width="0.1" textLength="3.77" lengthAdjust="spacingAndGlyphs">4</text><path d="M290.9 189.6H294" stroke="#111" stroke-width="1.0"/><text x="288.4" y="191.65" font-size="5.7" text-anchor="end" fill="#222" stroke="#222" stroke-width="0.1" textLength="3.77" lengthAdjust="spacingAndGlyphs">3</text><path d="M290.9 202.1H294" stroke="#111" stroke-width="1.0"/><text x="288.4" y="204.15" font-size="5.7" text-anchor="end" fill="#222" stroke="#222" stroke-width="0.1" textLength="3.77" lengthAdjust="spacingAndGlyphs">2</text><path d="M290.9 214.3H294" stroke="#111" stroke-width="1.0"/><text x="288.4" y="216.35" font-size="5.7" text-anchor="end" fill="#222" stroke="#222" stroke-width="0.1" textLength="3.77" lengthAdjust="spacingAndGlyphs">1</text><path d="M290.9 226.3H294" stroke="#111" stroke-width="1.0"/><text x="288.4" y="228.35" font-size="5.7" text-anchor="end" fill="#222" stroke="#222" stroke-width="0.1" textLength="3.77" lengthAdjust="spacingAndGlyphs">0</text><path d="M319.5 226.3V228.9" stroke="#111" stroke-width="0.8"/><text x="307.4" y="237.7" font-size="6.7" fill="#111" stroke="#111" stroke-width="0.1">SS/R3</text><text x="327" y="236.4" font-size="4.4" fill="#222" stroke="#222" stroke-width="0.1" textLength="5.0" lengthAdjust="spacingAndGlyphs">WT</text><path d="M358.3 226.3V228.9" stroke="#111" stroke-width="0.8"/><text x="346.2" y="237.7" font-size="6.7" fill="#111" stroke="#111" stroke-width="0.1">SS/R3</text><text x="365.8" y="236.4" font-size="4.4" fill="#222" stroke="#222" stroke-width="0.1" textLength="5.0" lengthAdjust="spacingAndGlyphs">KO</text><text transform="translate(278.9 193.8) rotate(-90)" x="0" y="0" font-size="8.2" text-anchor="middle" fill="#000" stroke="#000" stroke-width="0.06" textLength="64" lengthAdjust="spacingAndGlyphs">RV end diastolic (mmHg)</text><path d="M319.5 163.5V162H359.8V163.5" stroke="#333" stroke-width="1.05" fill="none"/><text x="332.1" y="157.8" font-size="5.4" font-style="italic" fill="#333" stroke="#333" stroke-width="0.1" textLength="15" lengthAdjust="spacingAndGlyphs">P=.45</text></g>
<g><path d="M395.3 142.2H397.8V147.4Q397.8 150.3 395.3 150.3Q393.1 150.3 392.9 147.9L395 147.6Q395.1 148.5 395.4 148.4Q395.3 148.3 395.3 147.5Z" fill="#000"/><rect x="440.8" y="182.2" width="25.4" height="44.1" fill="#e6bac4"/><rect x="479.1" y="183.9" width="25.3" height="42.4" fill="#c9d0dd"/><path d="M447.2 179.5H459.7M447.2 184.5H459.7M453.4 179.5V184.5" stroke="#222" stroke-width="0.9" fill="none"/><path d="M485.2 181.5H497.7M485.2 186.5H497.7M491.4 181.5V186.5" stroke="#222" stroke-width="0.9" fill="none"/><circle cx="453.4" cy="169.9" r="2.5" fill="#fff" fill-opacity="0.18"/><circle cx="453.4" cy="178" r="2.5" fill="#fff" fill-opacity="0.18"/><circle cx="453.4" cy="183.3" r="2.5" fill="#fff" fill-opacity="0.18"/><circle cx="449.4" cy="186" r="2.5" fill="#fff" fill-opacity="0.18"/><circle cx="457.2" cy="186" r="2.5" fill="#fff" fill-opacity="0.18"/><circle cx="453.4" cy="188.1" r="2.5" fill="#fff" fill-opacity="0.18"/><circle cx="453.4" cy="169.9" r="1.45" fill="#fff" fill-opacity="0.35" stroke="#b81a45" stroke-width="1.05"/><circle cx="453.4" cy="178" r="1.45" fill="#fff" fill-opacity="0.35" stroke="#b81a45" stroke-width="1.05"/><circle cx="453.4" cy="183.3" r="1.45" fill="#fff" fill-opacity="0.35" stroke="#b81a45" stroke-width="1.05"/><circle cx="449.4" cy="186" r="1.45" fill="#fff" fill-opacity="0.35" stroke="#b81a45" stroke-width="1.05"/><circle cx="457.2" cy="186" r="1.45" fill="#fff" fill-opacity="0.35" stroke="#b81a45" stroke-width="1.05"/><circle cx="453.4" cy="188.1" r="1.45" fill="#fff" fill-opacity="0.35" stroke="#b81a45" stroke-width="1.05"/><circle cx="493.4" cy="177.5" r="2.5" fill="#fff" fill-opacity="0.18"/><circle cx="489.4" cy="179.3" r="2.5" fill="#fff" fill-opacity="0.18"/><circle cx="489.4" cy="183.3" r="2.5" fill="#fff" fill-opacity="0.18"/><circle cx="493.4" cy="186.3" r="2.5" fill="#fff" fill-opacity="0.18"/><circle cx="491.4" cy="190.9" r="2.5" fill="#fff" fill-opacity="0.18"/><circle cx="493.4" cy="177.5" r="1.45" fill="#fff" fill-opacity="0.35" stroke="#345694" stroke-width="1.05"/><circle cx="489.4" cy="179.3" r="1.45" fill="#fff" fill-opacity="0.35" stroke="#345694" stroke-width="1.05"/><circle cx="489.4" cy="183.3" r="1.45" fill="#fff" fill-opacity="0.35" stroke="#345694" stroke-width="1.05"/><circle cx="493.4" cy="186.3" r="1.45" fill="#fff" fill-opacity="0.35" stroke="#345694" stroke-width="1.05"/><circle cx="491.4" cy="190.9" r="1.45" fill="#fff" fill-opacity="0.35" stroke="#345694" stroke-width="1.05"/><path d="M428.1 163.4V226.3H511.2" stroke="#111" stroke-width="1.1" fill="none"/><path d="M425 165.9H428.1" stroke="#111" stroke-width="1.0"/><text x="422.5" y="167.95" font-size="5.7" text-anchor="end" fill="#222" stroke="#222" stroke-width="0.1" textLength="15.09" lengthAdjust="spacingAndGlyphs">3000</text><path d="M425 186H428.1" stroke="#111" stroke-width="1.0"/><text x="422.5" y="188.05" font-size="5.7" text-anchor="end" fill="#222" stroke="#222" stroke-width="0.1" textLength="15.09" lengthAdjust="spacingAndGlyphs">2000</text><path d="M425 206.2H428.1" stroke="#111" stroke-width="1.0"/><text x="422.5" y="208.25" font-size="5.7" text-anchor="end" fill="#222" stroke="#222" stroke-width="0.1" textLength="15.09" lengthAdjust="spacingAndGlyphs">1000</text><path d="M425 226.3H428.1" stroke="#111" stroke-width="1.0"/><text x="422.5" y="228.35" font-size="5.7" text-anchor="end" fill="#222" stroke="#222" stroke-width="0.1" textLength="3.77" lengthAdjust="spacingAndGlyphs">0</text><path d="M453.5 226.3V228.9" stroke="#111" stroke-width="0.8"/><text x="441.4" y="237.7" font-size="6.7" fill="#111" stroke="#111" stroke-width="0.1">SS/R3</text><text x="461" y="236.4" font-size="4.4" fill="#222" stroke="#222" stroke-width="0.1" textLength="5.0" lengthAdjust="spacingAndGlyphs">WT</text><path d="M491.7 226.3V228.9" stroke="#111" stroke-width="0.8"/><text x="479.6" y="237.7" font-size="6.7" fill="#111" stroke="#111" stroke-width="0.1">SS/R3</text><text x="499.2" y="236.4" font-size="4.4" fill="#222" stroke="#222" stroke-width="0.1" textLength="5.0" lengthAdjust="spacingAndGlyphs">KO</text><text transform="translate(401.8 194.6) rotate(-90)" x="0" y="0" font-size="8.2" text-anchor="middle" fill="#000" stroke="#000" stroke-width="0.06" textLength="36.6" lengthAdjust="spacingAndGlyphs">RV dP/dT <tspan font-size="6.56">max</tspan></text><path d="M453.1 164.9V163.4H494V164.9" stroke="#333" stroke-width="1.05" fill="none"/><text x="466.1" y="159" font-size="5.4" font-style="italic" fill="#333" stroke="#333" stroke-width="0.1" textLength="14.9" lengthAdjust="spacingAndGlyphs">P=.66</text></g>
<g><text x="6.9" y="261.1" font-size="11.8" font-weight="bold" fill="#000" stroke="#000" stroke-width="0.35">E</text><rect x="45.2" y="308.1" width="25.8" height="30.1" fill="#e6bac4"/><rect x="84.1" y="305.8" width="25.7" height="32.4" fill="#c9d0dd"/><path d="M51.9 305.5H64.4M51.9 310.5H64.4M58.1 305.5V310.5" stroke="#222" stroke-width="0.9" fill="none"/><path d="M90.2 301.5H103.3M90.2 309.5H103.3M96.7 301.5V309.5" stroke="#222" stroke-width="0.9" fill="none"/><circle cx="58.1" cy="291.3" r="2.5" fill="#fff" fill-opacity="0.18"/><circle cx="54.3" cy="299.1" r="2.5" fill="#fff" fill-opacity="0.18"/><circle cx="58.1" cy="299.7" r="2.5" fill="#fff" fill-opacity="0.18"/><circle cx="61.9" cy="298.2" r="2.5" fill="#fff" fill-opacity="0.18"/><circle cx="59.9" cy="302.4" r="2.5" fill="#fff" fill-opacity="0.18"/><circle cx="56.3" cy="304.3" r="2.5" fill="#fff" fill-opacity="0.18"/><circle cx="48.9" cy="312" r="2.5" fill="#fff" fill-opacity="0.18"/><circle cx="52.5" cy="313.4" r="2.5" fill="#fff" fill-opacity="0.18"/><circle cx="58.1" cy="313.4" r="2.5" fill="#fff" fill-opacity="0.18"/><circle cx="61.9" cy="312" r="2.5" fill="#fff" fill-opacity="0.18"/><circle cx="65.4" cy="310.5" r="2.5" fill="#fff" fill-opacity="0.18"/><circle cx="54.5" cy="316.2" r="2.5" fill="#fff" fill-opacity="0.18"/><circle cx="61.9" cy="316.8" r="2.5" fill="#fff" fill-opacity="0.18"/><circle cx="58.1" cy="319.2" r="2.5" fill="#fff" fill-opacity="0.18"/><circle cx="58.1" cy="291.3" r="1.45" fill="#fff" fill-opacity="0.35" stroke="#b81a45" stroke-width="1.05"/><circle cx="54.3" cy="299.1" r="1.45" fill="#fff" fill-opacity="0.35" stroke="#b81a45" stroke-width="1.05"/><circle cx="58.1" cy="299.7" r="1.45" fill="#fff" fill-opacity="0.35" stroke="#b81a45" stroke-width="1.05"/><circle cx="61.9" cy="298.2" r="1.45" fill="#fff" fill-opacity="0.35" stroke="#b81a45" stroke-width="1.05"/><circle cx="59.9" cy="302.4" r="1.45" fill="#fff" fill-opacity="0.35" stroke="#b81a45" stroke-width="1.05"/><circle cx="56.3" cy="304.3" r="1.45" fill="#fff" fill-opacity="0.35" stroke="#b81a45" stroke-width="1.05"/><circle cx="48.9" cy="312" r="1.45" fill="#fff" fill-opacity="0.35" stroke="#b81a45" stroke-width="1.05"/><circle cx="52.5" cy="313.4" r="1.45" fill="#fff" fill-opacity="0.35" stroke="#b81a45" stroke-width="1.05"/><circle cx="58.1" cy="313.4" r="1.45" fill="#fff" fill-opacity="0.35" stroke="#b81a45" stroke-width="1.05"/><circle cx="61.9" cy="312" r="1.45" fill="#fff" fill-opacity="0.35" stroke="#b81a45" stroke-width="1.05"/><circle cx="65.4" cy="310.5" r="1.45" fill="#fff" fill-opacity="0.35" stroke="#b81a45" stroke-width="1.05"/><circle cx="54.5" cy="316.2" r="1.45" fill="#fff" fill-opacity="0.35" stroke="#b81a45" stroke-width="1.05"/><circle cx="61.9" cy="316.8" r="1.45" fill="#fff" fill-opacity="0.35" stroke="#b81a45" stroke-width="1.05"/><circle cx="58.1" cy="319.2" r="1.45" fill="#fff" fill-opacity="0.35" stroke="#b81a45" stroke-width="1.05"/><circle cx="96.7" cy="283.8" r="2.5" fill="#fff" fill-opacity="0.18"/><circle cx="94.8" cy="287.3" r="2.5" fill="#fff" fill-opacity="0.18"/><circle cx="98.5" cy="291.2" r="2.5" fill="#fff" fill-opacity="0.18"/><circle cx="93.2" cy="308.5" r="2.5" fill="#fff" fill-opacity="0.18"/><circle cx="95" cy="310" r="2.5" fill="#fff" fill-opacity="0.18"/><circle cx="98.4" cy="307.9" r="2.5" fill="#fff" fill-opacity="0.18"/><circle cx="98.4" cy="313.6" r="2.5" fill="#fff" fill-opacity="0.18"/><circle cx="93.2" cy="315.9" r="2.5" fill="#fff" fill-opacity="0.18"/><circle cx="100.3" cy="317.4" r="2.5" fill="#fff" fill-opacity="0.18"/><circle cx="96.7" cy="318.9" r="2.5" fill="#fff" fill-opacity="0.18"/><circle cx="96.7" cy="283.8" r="1.45" fill="#fff" fill-opacity="0.35" stroke="#345694" stroke-width="1.05"/><circle cx="94.8" cy="287.3" r="1.45" fill="#fff" fill-opacity="0.35" stroke="#345694" stroke-width="1.05"/><circle cx="98.5" cy="291.2" r="1.45" fill="#fff" fill-opacity="0.35" stroke="#345694" stroke-width="1.05"/><circle cx="93.2" cy="308.5" r="1.45" fill="#fff" fill-opacity="0.35" stroke="#345694" stroke-width="1.05"/><circle cx="95" cy="310" r="1.45" fill="#fff" fill-opacity="0.35" stroke="#345694" stroke-width="1.05"/><circle cx="98.4" cy="307.9" r="1.45" fill="#fff" fill-opacity="0.35" stroke="#345694" stroke-width="1.05"/><circle cx="98.4" cy="313.6" r="1.45" fill="#fff" fill-opacity="0.35" stroke="#345694" stroke-width="1.05"/><circle cx="93.2" cy="315.9" r="1.45" fill="#fff" fill-opacity="0.35" stroke="#345694" stroke-width="1.05"/><circle cx="100.3" cy="317.4" r="1.45" fill="#fff" fill-opacity="0.35" stroke="#345694" stroke-width="1.05"/><circle cx="96.7" cy="318.9" r="1.45" fill="#fff" fill-opacity="0.35" stroke="#345694" stroke-width="1.05"/><path d="M32.45 273.5V338.2H116.7" stroke="#111" stroke-width="1.1" fill="none"/><path d="M29.35 276.3H32.45" stroke="#111" stroke-width="1.0"/><text x="26.85" y="278.35" font-size="5.7" text-anchor="end" fill="#222" stroke="#222" stroke-width="0.1" textLength="7.54" lengthAdjust="spacingAndGlyphs">15</text><path d="M29.35 297.1H32.45" stroke="#111" stroke-width="1.0"/><text x="26.85" y="299.15" font-size="5.7" text-anchor="end" fill="#222" stroke="#222" stroke-width="0.1" textLength="7.54" lengthAdjust="spacingAndGlyphs">10</text><path d="M29.35 317.7H32.45" stroke="#111" stroke-width="1.0"/><text x="26.85" y="319.75" font-size="5.7" text-anchor="end" fill="#222" stroke="#222" stroke-width="0.1" textLength="3.77" lengthAdjust="spacingAndGlyphs">5</text><path d="M29.35 338.2H32.45" stroke="#111" stroke-width="1.0"/><text x="26.85" y="340.25" font-size="5.7" text-anchor="end" fill="#222" stroke="#222" stroke-width="0.1" textLength="3.77" lengthAdjust="spacingAndGlyphs">0</text><path d="M58.1 338.2V340.8" stroke="#111" stroke-width="0.8"/><text x="46" y="349.6" font-size="6.7" fill="#111" stroke="#111" stroke-width="0.1">SS/R3</text><text x="65.6" y="348.3" font-size="4.4" fill="#222" stroke="#222" stroke-width="0.1" textLength="5.0" lengthAdjust="spacingAndGlyphs">WT</text><path d="M96.9 338.2V340.8" stroke="#111" stroke-width="0.8"/><text x="84.8" y="349.6" font-size="6.7" fill="#111" stroke="#111" stroke-width="0.1">SS/R3</text><text x="104.4" y="348.3" font-size="4.4" fill="#222" stroke="#222" stroke-width="0.1" textLength="5.0" lengthAdjust="spacingAndGlyphs">KO</text><text transform="translate(14.5 305.85) rotate(-90)" x="0" y="0" font-size="8.2" text-anchor="middle" fill="#000" stroke="#000" stroke-width="0.06" textLength="20.7" lengthAdjust="spacingAndGlyphs">Tau (W)</text><path d="M59 279.1V277.6H97.6V279.1" stroke="#333" stroke-width="1.05" fill="none"/><text x="71" y="273.7" font-size="5.4" font-style="italic" fill="#333" stroke="#333" stroke-width="0.1" textLength="15" lengthAdjust="spacingAndGlyphs">P=.88</text></g>
<g><text x="133.3" y="261.3" font-size="11.8" font-weight="bold" fill="#000" stroke="#000" stroke-width="0.35">F</text><rect x="180.6" y="277.3" width="25.2" height="26.5" fill="#e6bac4"/><rect x="219.2" y="277.3" width="25.5" height="33.3" fill="#c9d0dd"/><path d="M186.9 302.5H199.4M186.9 306.5H199.4M193.4 302.5V306.5" stroke="#222" stroke-width="0.9" fill="none"/><path d="M225 308.5H237.7M225 314.5H237.7M231.4 308.5V314.5" stroke="#222" stroke-width="0.9" fill="none"/><circle cx="189.2" cy="295" r="2.5" fill="#fff" fill-opacity="0.18"/><circle cx="191.4" cy="296.4" r="2.5" fill="#fff" fill-opacity="0.18"/><circle cx="195" cy="294.2" r="2.5" fill="#fff" fill-opacity="0.18"/><circle cx="196.8" cy="299.1" r="2.5" fill="#fff" fill-opacity="0.18"/><circle cx="195.2" cy="303.2" r="2.5" fill="#fff" fill-opacity="0.18"/><circle cx="191.4" cy="304" r="2.5" fill="#fff" fill-opacity="0.18"/><circle cx="187.7" cy="306.7" r="2.5" fill="#fff" fill-opacity="0.18"/><circle cx="191.4" cy="308" r="2.5" fill="#fff" fill-opacity="0.18"/><circle cx="200.5" cy="307.5" r="2.5" fill="#fff" fill-opacity="0.18"/><circle cx="196.8" cy="310.2" r="2.5" fill="#fff" fill-opacity="0.18"/><circle cx="195" cy="313.6" r="2.5" fill="#fff" fill-opacity="0.18"/><circle cx="191.3" cy="315.7" r="2.5" fill="#fff" fill-opacity="0.18"/><circle cx="189.2" cy="295" r="1.45" fill="#fff" fill-opacity="0.35" stroke="#b81a45" stroke-width="1.05"/><circle cx="191.4" cy="296.4" r="1.45" fill="#fff" fill-opacity="0.35" stroke="#b81a45" stroke-width="1.05"/><circle cx="195" cy="294.2" r="1.45" fill="#fff" fill-opacity="0.35" stroke="#b81a45" stroke-width="1.05"/><circle cx="196.8" cy="299.1" r="1.45" fill="#fff" fill-opacity="0.35" stroke="#b81a45" stroke-width="1.05"/><circle cx="195.2" cy="303.2" r="1.45" fill="#fff" fill-opacity="0.35" stroke="#b81a45" stroke-width="1.05"/><circle cx="191.4" cy="304" r="1.45" fill="#fff" fill-opacity="0.35" stroke="#b81a45" stroke-width="1.05"/><circle cx="187.7" cy="306.7" r="1.45" fill="#fff" fill-opacity="0.35" stroke="#b81a45" stroke-width="1.05"/><circle cx="191.4" cy="308" r="1.45" fill="#fff" fill-opacity="0.35" stroke="#b81a45" stroke-width="1.05"/><circle cx="200.5" cy="307.5" r="1.45" fill="#fff" fill-opacity="0.35" stroke="#b81a45" stroke-width="1.05"/><circle cx="196.8" cy="310.2" r="1.45" fill="#fff" fill-opacity="0.35" stroke="#b81a45" stroke-width="1.05"/><circle cx="195" cy="313.6" r="1.45" fill="#fff" fill-opacity="0.35" stroke="#b81a45" stroke-width="1.05"/><circle cx="191.3" cy="315.7" r="1.45" fill="#fff" fill-opacity="0.35" stroke="#b81a45" stroke-width="1.05"/><circle cx="225.3" cy="304.4" r="2.5" fill="#fff" fill-opacity="0.18"/><circle cx="227.8" cy="302.7" r="2.5" fill="#fff" fill-opacity="0.18"/><circle cx="229.5" cy="306.1" r="2.5" fill="#fff" fill-opacity="0.18"/><circle cx="233.3" cy="302.5" r="2.5" fill="#fff" fill-opacity="0.18"/><circle cx="233.3" cy="306.3" r="2.5" fill="#fff" fill-opacity="0.18"/><circle cx="237.2" cy="304.4" r="2.5" fill="#fff" fill-opacity="0.18"/><circle cx="231.4" cy="305.5" r="2.5" fill="#fff" fill-opacity="0.18"/><circle cx="229.4" cy="315.5" r="2.5" fill="#fff" fill-opacity="0.18"/><circle cx="233.4" cy="314" r="2.5" fill="#fff" fill-opacity="0.18"/><circle cx="231.4" cy="324" r="2.5" fill="#fff" fill-opacity="0.18"/><circle cx="231.4" cy="331.9" r="2.5" fill="#fff" fill-opacity="0.18"/><circle cx="225.3" cy="304.4" r="1.45" fill="#fff" fill-opacity="0.35" stroke="#345694" stroke-width="1.05"/><circle cx="227.8" cy="302.7" r="1.45" fill="#fff" fill-opacity="0.35" stroke="#345694" stroke-width="1.05"/><circle cx="229.5" cy="306.1" r="1.45" fill="#fff" fill-opacity="0.35" stroke="#345694" stroke-width="1.05"/><circle cx="233.3" cy="302.5" r="1.45" fill="#fff" fill-opacity="0.35" stroke="#345694" stroke-width="1.05"/><circle cx="233.3" cy="306.3" r="1.45" fill="#fff" fill-opacity="0.35" stroke="#345694" stroke-width="1.05"/><circle cx="237.2" cy="304.4" r="1.45" fill="#fff" fill-opacity="0.35" stroke="#345694" stroke-width="1.05"/><circle cx="231.4" cy="305.5" r="1.45" fill="#fff" fill-opacity="0.35" stroke="#345694" stroke-width="1.05"/><circle cx="229.4" cy="315.5" r="1.45" fill="#fff" fill-opacity="0.35" stroke="#345694" stroke-width="1.05"/><circle cx="233.4" cy="314" r="1.45" fill="#fff" fill-opacity="0.35" stroke="#345694" stroke-width="1.05"/><circle cx="231.4" cy="324" r="1.45" fill="#fff" fill-opacity="0.35" stroke="#345694" stroke-width="1.05"/><circle cx="231.4" cy="331.9" r="1.45" fill="#fff" fill-opacity="0.35" stroke="#345694" stroke-width="1.05"/><path d="M165 277.3H250.8" stroke="#111" stroke-width="1.1" fill="none"/><path d="M167.7 277.3V338.2H250.5" stroke="#111" stroke-width="1.1" fill="none"/><path d="M164.6 277.3H167.7" stroke="#111" stroke-width="1.0"/><text x="162.1" y="279.35" font-size="5.7" text-anchor="end" fill="#222" stroke="#222" stroke-width="0.1" textLength="3.77" lengthAdjust="spacingAndGlyphs">0</text><path d="M164.6 297.4H167.7" stroke="#111" stroke-width="1.0"/><text x="162.1" y="299.45" font-size="5.7" text-anchor="end" fill="#222" stroke="#222" stroke-width="0.1" textLength="17.34" lengthAdjust="spacingAndGlyphs">-1000</text><path d="M164.6 317.7H167.7" stroke="#111" stroke-width="1.0"/><text x="162.1" y="319.75" font-size="5.7" text-anchor="end" fill="#222" stroke="#222" stroke-width="0.1" textLength="17.34" lengthAdjust="spacingAndGlyphs">-2000</text><path d="M164.6 338.2H167.7" stroke="#111" stroke-width="1.0"/><text x="162.1" y="340.25" font-size="5.7" text-anchor="end" fill="#222" stroke="#222" stroke-width="0.1" textLength="17.34" lengthAdjust="spacingAndGlyphs">-3000</text><path d="M193.2 338.2V340.8" stroke="#111" stroke-width="0.8"/><text x="181.1" y="349.6" font-size="6.7" fill="#111" stroke="#111" stroke-width="0.1">SS/R3</text><text x="200.7" y="348.3" font-size="4.4" fill="#222" stroke="#222" stroke-width="0.1" textLength="5.0" lengthAdjust="spacingAndGlyphs">WT</text><path d="M231.4 338.2V340.8" stroke="#111" stroke-width="0.8"/><text x="219.3" y="349.6" font-size="6.7" fill="#111" stroke="#111" stroke-width="0.1">SS/R3</text><text x="238.9" y="348.3" font-size="4.4" fill="#222" stroke="#222" stroke-width="0.1" textLength="5.0" lengthAdjust="spacingAndGlyphs">KO</text><text transform="translate(140.7 308) rotate(-90)" x="0" y="0" font-size="8.2" text-anchor="middle" fill="#000" stroke="#000" stroke-width="0.06" textLength="35.6" lengthAdjust="spacingAndGlyphs">RV dP/dT <tspan font-size="6.56">min</tspan></text><path d="M192.2 274.4V272.9H237.8V274.4" stroke="#333" stroke-width="1.05" fill="none"/><text x="207.8" y="269" font-size="5.4" font-style="italic" fill="#333" stroke="#333" stroke-width="0.1" textLength="14.7" lengthAdjust="spacingAndGlyphs">P=.13</text></g>
<g><text x="268.3" y="261.1" font-size="11.8" font-weight="bold" fill="#000" stroke="#000" stroke-width="0.35">K</text><rect x="307.1" y="307.7" width="25.4" height="30.5" fill="#e6bac4"/><rect x="346.1" y="313.2" width="25.7" height="25" fill="#c9d0dd"/><path d="M313.2 302.5H325.9M313.2 311.5H325.9M319.6 302.5V311.5" stroke="#222" stroke-width="0.9" fill="none"/><path d="M352.2 309.5H364.7M352.2 316.5H364.7M358.6 309.5V316.5" stroke="#222" stroke-width="0.9" fill="none"/><circle cx="319.9" cy="286.4" r="2.5" fill="#fff" fill-opacity="0.18"/><circle cx="319.6" cy="302.2" r="2.5" fill="#fff" fill-opacity="0.18"/><circle cx="319.6" cy="308.5" r="2.5" fill="#fff" fill-opacity="0.18"/><circle cx="317.6" cy="311.4" r="2.5" fill="#fff" fill-opacity="0.18"/><circle cx="321.6" cy="312.5" r="2.5" fill="#fff" fill-opacity="0.18"/><circle cx="319.6" cy="321.3" r="2.5" fill="#fff" fill-opacity="0.18"/><circle cx="319.9" cy="286.4" r="1.45" fill="#fff" fill-opacity="0.35" stroke="#b81a45" stroke-width="1.05"/><circle cx="319.6" cy="302.2" r="1.45" fill="#fff" fill-opacity="0.35" stroke="#b81a45" stroke-width="1.05"/><circle cx="319.6" cy="308.5" r="1.45" fill="#fff" fill-opacity="0.35" stroke="#b81a45" stroke-width="1.05"/><circle cx="317.6" cy="311.4" r="1.45" fill="#fff" fill-opacity="0.35" stroke="#b81a45" stroke-width="1.05"/><circle cx="321.6" cy="312.5" r="1.45" fill="#fff" fill-opacity="0.35" stroke="#b81a45" stroke-width="1.05"/><circle cx="319.6" cy="321.3" r="1.45" fill="#fff" fill-opacity="0.35" stroke="#b81a45" stroke-width="1.05"/><circle cx="358.6" cy="299.7" r="2.5" fill="#fff" fill-opacity="0.18"/><circle cx="354.8" cy="314.2" r="2.5" fill="#fff" fill-opacity="0.18"/><circle cx="362.5" cy="313.2" r="2.5" fill="#fff" fill-opacity="0.18"/><circle cx="358.6" cy="316.6" r="2.5" fill="#fff" fill-opacity="0.18"/><circle cx="358.6" cy="320.9" r="2.5" fill="#fff" fill-opacity="0.18"/><circle cx="358.6" cy="299.7" r="1.45" fill="#fff" fill-opacity="0.35" stroke="#345694" stroke-width="1.05"/><circle cx="354.8" cy="314.2" r="1.45" fill="#fff" fill-opacity="0.35" stroke="#345694" stroke-width="1.05"/><circle cx="362.5" cy="313.2" r="1.45" fill="#fff" fill-opacity="0.35" stroke="#345694" stroke-width="1.05"/><circle cx="358.6" cy="316.6" r="1.45" fill="#fff" fill-opacity="0.35" stroke="#345694" stroke-width="1.05"/><circle cx="358.6" cy="320.9" r="1.45" fill="#fff" fill-opacity="0.35" stroke="#345694" stroke-width="1.05"/><path d="M294 273.7V338.2H378.8" stroke="#111" stroke-width="1.1" fill="none"/><path d="M290.9 276.3H294" stroke="#111" stroke-width="1.0"/><text x="288.4" y="278.35" font-size="5.7" text-anchor="end" fill="#222" stroke="#222" stroke-width="0.1" textLength="7.54" lengthAdjust="spacingAndGlyphs">15</text><path d="M290.9 296.9H294" stroke="#111" stroke-width="1.0"/><text x="288.4" y="298.95" font-size="5.7" text-anchor="end" fill="#222" stroke="#222" stroke-width="0.1" textLength="7.54" lengthAdjust="spacingAndGlyphs">10</text><path d="M290.9 317.6H294" stroke="#111" stroke-width="1.0"/><text x="288.4" y="319.65" font-size="5.7" text-anchor="end" fill="#222" stroke="#222" stroke-width="0.1" textLength="3.77" lengthAdjust="spacingAndGlyphs">5</text><path d="M290.9 338.2H294" stroke="#111" stroke-width="1.0"/><text x="288.4" y="340.25" font-size="5.7" text-anchor="end" fill="#222" stroke="#222" stroke-width="0.1" textLength="3.77" lengthAdjust="spacingAndGlyphs">0</text><path d="M319.8 338.2V340.8" stroke="#111" stroke-width="0.8"/><text x="307.7" y="349.6" font-size="6.7" fill="#111" stroke="#111" stroke-width="0.1">SS/R3</text><text x="327.3" y="348.3" font-size="4.4" fill="#222" stroke="#222" stroke-width="0.1" textLength="5.0" lengthAdjust="spacingAndGlyphs">WT</text><path d="M358.9 338.2V340.8" stroke="#111" stroke-width="0.8"/><text x="346.8" y="349.6" font-size="6.7" fill="#111" stroke="#111" stroke-width="0.1">SS/R3</text><text x="366.4" y="348.3" font-size="4.4" fill="#222" stroke="#222" stroke-width="0.1" textLength="5.0" lengthAdjust="spacingAndGlyphs">KO</text><text transform="translate(276.4 306.05) rotate(-90)" x="0" y="0" font-size="8.2" text-anchor="middle" fill="#000" stroke="#000" stroke-width="0.06" textLength="20.1" lengthAdjust="spacingAndGlyphs">Tau (W)</text><path d="M318.3 279.5V278H357.1V279.5" stroke="#333" stroke-width="1.05" fill="none"/><text x="330.5" y="273.9" font-size="5.4" font-style="italic" fill="#333" stroke="#333" stroke-width="0.1" textLength="14.7" lengthAdjust="spacingAndGlyphs">P=.33</text></g>
<g><text x="393.6" y="261.3" font-size="11.8" font-weight="bold" fill="#000" stroke="#000" stroke-width="0.35">L</text><rect x="441" y="277.7" width="25" height="33.9" fill="#e6bac4"/><rect x="479.1" y="277.7" width="25.1" height="31.9" fill="#c9d0dd"/><path d="M447.2 309.5H459.7M447.2 314.5H459.7M453.4 309.5V314.5" stroke="#222" stroke-width="0.9" fill="none"/><path d="M484.9 308.5H497.9M484.9 312.5H497.9M491.4 308.5V312.5" stroke="#222" stroke-width="0.9" fill="none"/><circle cx="449.4" cy="307.6" r="2.5" fill="#fff" fill-opacity="0.18"/><circle cx="453.4" cy="308.5" r="2.5" fill="#fff" fill-opacity="0.18"/><circle cx="456.8" cy="306.1" r="2.5" fill="#fff" fill-opacity="0.18"/><circle cx="453.4" cy="312.1" r="2.5" fill="#fff" fill-opacity="0.18"/><circle cx="453.4" cy="317.2" r="2.5" fill="#fff" fill-opacity="0.18"/><circle cx="453.4" cy="322.3" r="2.5" fill="#fff" fill-opacity="0.18"/><circle cx="449.4" cy="307.6" r="1.45" fill="#fff" fill-opacity="0.35" stroke="#b81a45" stroke-width="1.05"/><circle cx="453.4" cy="308.5" r="1.45" fill="#fff" fill-opacity="0.35" stroke="#b81a45" stroke-width="1.05"/><circle cx="456.8" cy="306.1" r="1.45" fill="#fff" fill-opacity="0.35" stroke="#b81a45" stroke-width="1.05"/><circle cx="453.4" cy="312.1" r="1.45" fill="#fff" fill-opacity="0.35" stroke="#b81a45" stroke-width="1.05"/><circle cx="453.4" cy="317.2" r="1.45" fill="#fff" fill-opacity="0.35" stroke="#b81a45" stroke-width="1.05"/><circle cx="453.4" cy="322.3" r="1.45" fill="#fff" fill-opacity="0.35" stroke="#b81a45" stroke-width="1.05"/><circle cx="491.4" cy="304.7" r="2.5" fill="#fff" fill-opacity="0.18"/><circle cx="489.4" cy="306.4" r="2.5" fill="#fff" fill-opacity="0.18"/><circle cx="493.4" cy="309.3" r="2.5" fill="#fff" fill-opacity="0.18"/><circle cx="489.4" cy="315.4" r="2.5" fill="#fff" fill-opacity="0.18"/><circle cx="493.2" cy="315.4" r="2.5" fill="#fff" fill-opacity="0.18"/><circle cx="491.4" cy="304.7" r="1.45" fill="#fff" fill-opacity="0.35" stroke="#345694" stroke-width="1.05"/><circle cx="489.4" cy="306.4" r="1.45" fill="#fff" fill-opacity="0.35" stroke="#345694" stroke-width="1.05"/><circle cx="493.4" cy="309.3" r="1.45" fill="#fff" fill-opacity="0.35" stroke="#345694" stroke-width="1.05"/><circle cx="489.4" cy="315.4" r="1.45" fill="#fff" fill-opacity="0.35" stroke="#345694" stroke-width="1.05"/><circle cx="493.2" cy="315.4" r="1.45" fill="#fff" fill-opacity="0.35" stroke="#345694" stroke-width="1.05"/><path d="M425.5 277.7H511" stroke="#111" stroke-width="1.1" fill="none"/><path d="M428.1 277.7V338.2H510.6" stroke="#111" stroke-width="1.1" fill="none"/><path d="M425 277.7H428.1" stroke="#111" stroke-width="1.0"/><text x="422.5" y="279.75" font-size="5.7" text-anchor="end" fill="#222" stroke="#222" stroke-width="0.1" textLength="3.77" lengthAdjust="spacingAndGlyphs">0</text><path d="M425 297.8H428.1" stroke="#111" stroke-width="1.0"/><text x="422.5" y="299.85" font-size="5.7" text-anchor="end" fill="#222" stroke="#222" stroke-width="0.1" textLength="17.34" lengthAdjust="spacingAndGlyphs">-1000</text><path d="M425 318.2H428.1" stroke="#111" stroke-width="1.0"/><text x="422.5" y="320.25" font-size="5.7" text-anchor="end" fill="#222" stroke="#222" stroke-width="0.1" textLength="17.34" lengthAdjust="spacingAndGlyphs">-2000</text><path d="M425 338.2H428.1" stroke="#111" stroke-width="1.0"/><text x="422.5" y="340.25" font-size="5.7" text-anchor="end" fill="#222" stroke="#222" stroke-width="0.1" textLength="17.34" lengthAdjust="spacingAndGlyphs">-3000</text><path d="M453.3 338.2V340.8" stroke="#111" stroke-width="0.8"/><text x="441.2" y="349.6" font-size="6.7" fill="#111" stroke="#111" stroke-width="0.1">SS/R3</text><text x="460.8" y="348.3" font-size="4.4" fill="#222" stroke="#222" stroke-width="0.1" textLength="5.0" lengthAdjust="spacingAndGlyphs">WT</text><path d="M491.5 338.2V340.8" stroke="#111" stroke-width="0.8"/><text x="479.4" y="349.6" font-size="6.7" fill="#111" stroke="#111" stroke-width="0.1">SS/R3</text><text x="499" y="348.3" font-size="4.4" fill="#222" stroke="#222" stroke-width="0.1" textLength="5.0" lengthAdjust="spacingAndGlyphs">KO</text><text transform="translate(400.8 308.15) rotate(-90)" x="0" y="0" font-size="8.2" text-anchor="middle" fill="#000" stroke="#000" stroke-width="0.06" textLength="35.3" lengthAdjust="spacingAndGlyphs">RV dP/dT <tspan font-size="6.56">min</tspan></text><path d="M454.2 275V273.5H491.7V275" stroke="#333" stroke-width="1.05" fill="none"/><text x="465.5" y="269.5" font-size="5.4" font-style="italic" fill="#333" stroke="#333" stroke-width="0.1" textLength="15" lengthAdjust="spacingAndGlyphs">P=.66</text></g>
<rect x="0" y="0" width="1.2" height="358" fill="#000"/>
<rect x="0" y="0" width="520" height="1.1" fill="#000"/>
<rect x="518.6" y="0" width="1.4" height="358" fill="#000"/>
<rect x="0" y="356.6" width="520" height="1.4" fill="#000"/>
</svg>
</body></html>
